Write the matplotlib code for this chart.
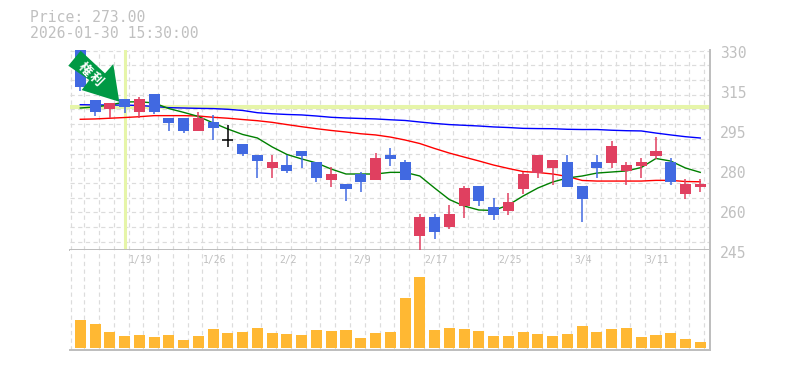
import numpy as np
import matplotlib
matplotlib.use('Agg')
import matplotlib.pyplot as plt
from matplotlib.patches import Polygon
from matplotlib.transforms import IdentityTransform

# Candles
opens = [330, 308.75, 304.9, 309.2, 303.8, 311.3, 301.1, 301.1, 295.6, 299.4, 291.9,
         290, 285.4, 279.9, 281.1, 287.1, 282.4, 274.8, 273.05, 277.3, 274.8, 285.4,
         282.4, 251, 259, 254.8, 263.7, 272.2, 263.3, 261.6, 270.9, 277.7, 279.9,
         282.4, 272.2, 282.4, 282, 278.6, 280.7, 285, 282.4, 268.8, 271.8]
highs = [330, 308.75, 307.3, 309.2, 310, 311.3, 301.1, 301.1, 303.8, 302.4, 298.1,
         290, 285.4, 285.4, 285.4, 287.1, 282.4, 280.3, 273.05, 278.2, 286.2, 288.3,
         283.2, 260.3, 260.3, 264.1, 272.2, 272.2, 267.1, 269.2, 278.2, 285.4, 283.2,
         285.4, 272.2, 285.4, 291.3, 282.4, 284.1, 293, 284.1, 275.2, 275.2]
lows = [312.6, 302.1, 301, 303.1, 301, 302.9, 295.6, 294.9, 295.6, 291.8, 288.9,
        285, 275.6, 275.6, 277.7, 279.9, 273.9, 271.8, 265.8, 269.6, 274.8, 280.7,
        274.8, 245, 249.7, 253.9, 258.6, 263.7, 257.8, 259.9, 268.8, 275.6, 272.6,
        271.8, 256.9, 275.6, 279.9, 272.6, 275.6, 283.7, 272.6, 266.7, 269.6]
closes = [314.3, 303.8, 307.3, 305.9, 309.2, 303.8, 299.1, 295.6, 301.2, 297, 291.9,
          285.8, 282.8, 282.4, 278.6, 285, 275.6, 277.3, 270.9, 273.9, 284.1, 283.7,
          274.8, 259, 252.7, 260.3, 271.4, 265.8, 259.9, 265.4, 277.3, 285.4, 283.2,
          271.8, 266.7, 279.9, 289.2, 281.1, 282.4, 287.1, 273.9, 273.05, 273.05]

ma_short = [305.35, 305.8, 306.6, 307.9, 308, 307.5, 305.1, 303.5, 301.75, 299, 296.4,
            294.1, 292.6, 288.8, 285.6, 283.7, 282, 279.4, 277.3, 277.3, 277.3, 278,
            278, 276.45, 271.35, 266.45, 263.7, 262, 261.8, 264.1, 267.95, 271.35, 273.9,
            275.6, 276.45, 277.7, 278.15, 278.6, 280.05, 283.9, 282.8, 279.85, 278]
ma_mid = [300.55, 300.7, 301, 301.3, 301.65, 302.1, 302.1, 302.1, 301.95, 301.4, 301,
          300.45, 299.95, 299.25, 298.3, 297.4, 296.55, 295.8, 295.15, 294.4, 293.9, 293,
          291.75, 290.25, 288.15, 286.2, 284.5, 282.85, 281.1, 279.65, 278.35, 277.95, 277.3,
          276.25, 274.55, 274.3, 274.3, 274.3, 274.3, 274.6, 274.6, 274.1, 274]
ma_long = [306.75, 306.67, 306.6, 306.6, 306.4, 306, 305.5, 305.35, 305.2, 305.1, 304.8,
           304.3, 303.35, 302.9, 302.6, 302.4, 301.95, 301.4, 301.1, 300.9, 300.7, 300.35,
           300.05, 299.4, 298.8, 298.3, 298, 297.7, 297.3, 297.05, 296.7, 296.6, 296.55,
           296.3, 296.2, 296.2, 295.9, 295.7, 295.6, 294.7, 293.9, 293.15, 292.6]

volumes = [28, 24, 16, 12, 13, 11, 13, 8, 12, 19, 15, 16, 20, 15, 14, 13, 18, 17, 18, 10, 15, 16,
           50, 71, 18, 20, 19, 17, 12, 12, 16, 14, 12, 14, 22, 16, 19, 20, 11, 13, 15, 9, 6]

date_idx = [4, 9, 14, 19, 24, 29, 34, 39]
date_labels = ['1/19', '1/26', '2/2', '2/9', '2/17', '2/25', '3/4', '3/11']
price_labels = ['330', '315', '295', '280', '260', '245']
price_ticks = [330, 313, 296, 279, 262, 245]

BLUE = '#4169e1'
RED = '#e04060'
BLACK = '#000000'
GREY = '#bdbdbd'
GRID = '#dcdcdc'
TEXT = '#c0c0c0'
HILITE = '#e6f5a9'
W, H = 785, 370

fig = plt.figure(figsize=(W / 100, H / 100), dpi=100)
ax = fig.add_axes([70 / W, (H - 250) / H, 640 / W, 200 / H])
vol = fig.add_axes([70 / W, (H - 350) / H, 640 / W, 100 / H])

xlim = (-0.698, 42.66)
grid_x = np.concatenate(([-0.65], np.arange(0.27, 42.6, 1.0)))
grid_y = np.arange(248.5, 330, 6.25)
dash = (0, (3.6, 2.9))

for a in (ax, vol):
    a.set_xlim(xlim)
    a.set_xticks(grid_x)
    a.set_xticklabels([])
    a.tick_params(length=0, labelleft=False)
    a.grid(axis='x', color=GRID, linestyle=dash, linewidth=0.85)
    a.set_axisbelow(True)
    for s in ('top', 'left'):
        a.spines[s].set_visible(False)
    for s in ('right', 'bottom'):
        a.spines[s].set_color(GREY)
        a.spines[s].set_linewidth(1.4)

ax.set_ylim(245, 330)
ax.set_yticks(grid_y)
ax.set_yticklabels([])
ax.grid(axis='y', color=GRID, linestyle=dash, linewidth=0.85)

# Highlighted day
ax.axvline(3, ymin=0.01, color=HILITE, linewidth=2.2, zorder=1.5)
ax.axhline(closes[3], color=HILITE, linewidth=2.9, zorder=1.5)

x = np.arange(len(closes))
ax.plot(x, ma_long, color='#0000ff', linewidth=1.0, zorder=2)
ax.plot(x, ma_mid, color='#ff0000', linewidth=1.0, zorder=2)
ax.plot(x, ma_short, color='#008000', linewidth=1.0, zorder=2)

for i in x:
    o, h, l, c = opens[i], highs[i], lows[i], closes[i]
    if c == o:
        col = BLACK
    elif c > o:
        col = RED
    else:
        col = BLUE
    ax.vlines(i, l, h, color=col, linewidth=1.1, zorder=3)
    if c == o:
        ax.hlines(c, i - 0.37, i + 0.37, color=col, linewidth=1.1, zorder=3)
    else:
        ax.bar(i, abs(c - o), bottom=min(o, c), width=0.75, color=col, linewidth=0, zorder=3)

vol.set_ylim(-2, 98)
vol.set_yticks([])
vol.bar(x, volumes, width=0.75, color='#ffb833', linewidth=0, zorder=3)

# Price scale, labels sit a little under their level
for v, s in zip(price_ticks, price_labels):
    ax.annotate(s, xy=(1, v), xycoords=('axes fraction', 'data'), xytext=(7, -2.2),
                textcoords='offset points', fontsize=10.6, color=TEXT,
                family='DejaVu Sans Mono', va='center', annotation_clip=False)

for i, s in zip(date_idx, date_labels):
    vol.annotate(s, xy=(i, 1), xycoords=('data', 'axes fraction'), xytext=(1, -7),
                 textcoords='offset points', fontsize=7, color=TEXT,
                 family='DejaVu Sans Mono', ha='center', va='center', annotation_clip=False)

fig.text(30 / W, 1 - 18 / H, 'Price: 273.00', fontsize=10.6, color=TEXT,
         family='DejaVu Sans Mono', va='center')
fig.text(30 / W, 1 - 33 / H, '2026-01-30 15:30:00', fontsize=10.6, color=TEXT,
         family='DejaVu Sans Mono', va='center')

# Green marker pointing at the highlighted day, shape given in pixels from its tip
tip_px = ax.transData.transform((3, 308)) + np.array([-5.3, 0])
arrow = np.array([(-51, -36), (-38.6, -51), (-14.3, -28.4), (-6, -37.7), (0, 0),
                  (-37.6, -11.7), (-30, -21.7)]) * np.array([1, -1]) + tip_px
ax.add_patch(Polygon(arrow, closed=True, facecolor='#009944', edgecolor='none',
                     transform=IdentityTransform(), clip_on=False, zorder=5))
for dx, dy, ch in [(-34.3, 32.7, '権'), (-23.6, 22.7, '利')]:
    ax.text(tip_px[0] + dx, tip_px[1] + dy, ch, transform=IdentityTransform(), color='white',
            fontsize=9.5, fontweight='bold', family='Noto Sans CJK JP', rotation=-45,
            ha='center', va='center', rotation_mode='anchor', zorder=6, clip_on=False)

fig.savefig('out.png', dpi=100)
